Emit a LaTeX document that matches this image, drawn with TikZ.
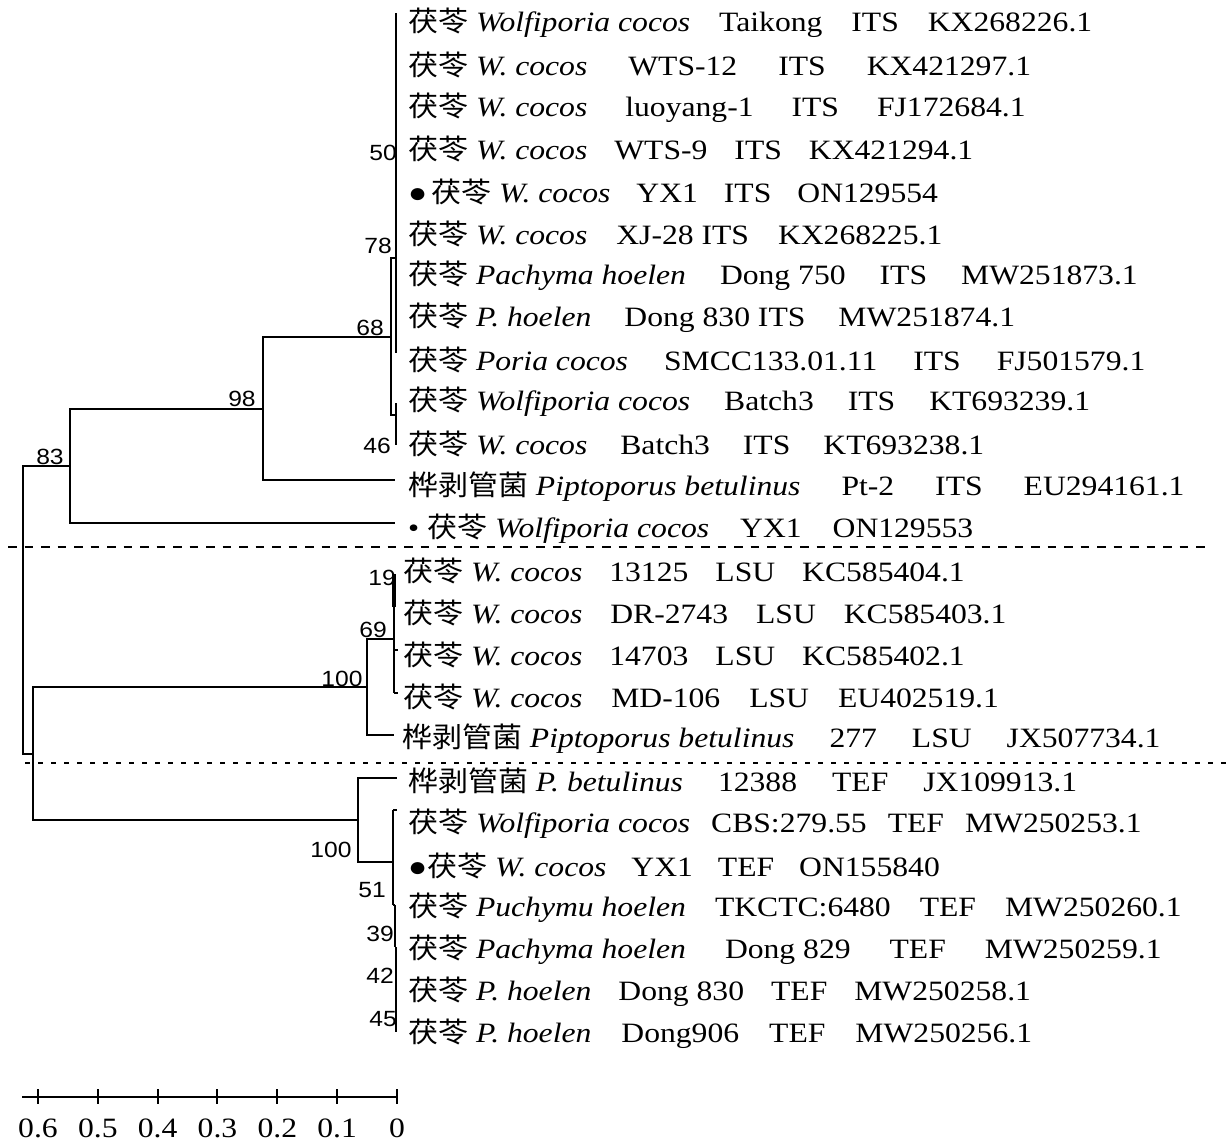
\documentclass[tikz,border=0pt]{standalone}
\usepackage{fontspec}
\setmainfont{Liberation Serif}[FakeStretch=1.13]
\newfontfamily\cjkf{Noto Sans CJK SC}[FakeStretch=1.07]
\newfontfamily\bsfam{Liberation Sans}[FakeStretch=1.12]
\newlength\rg
\newcommand{\gp}{\hspace{\rg}}
\newcommand{\G}[1]{\setlength{\rg}{#1pt}}
\newcommand{\fuling}{{\cjkf 茯苓}}
\newcommand{\huabo}{{\cjkf 桦剥管菌}}
\begin{document}
\begin{tikzpicture}[x=1pt,y=-1pt,
  br/.style={line width=2pt},
  lab/.style={anchor=west,inner sep=0pt,font=\fontsize{28}{32}\selectfont},
  bsl/.style={inner sep=0pt,font=\bsfam\fontsize{22}{24}\selectfont},
  scl/.style={inner sep=0pt,font=\fontsize{28}{32}\selectfont}]
\useasboundingbox (0,0) rectangle (1230,1141);
% ---------- labels ----------
\node[lab] (t1)  at (408,23)    {\G{29}\fuling\ \textit{Wolfiporia cocos}\gp Taikong\gp ITS\gp KX268226.1};
\node[lab] (t2)  at (408,65.1)  {\G{41}\fuling\ \textit{W. cocos}\gp WTS-12\gp ITS\gp KX421297.1};
\node[lab] (t3)  at (408,107.3) {\G{38}\fuling\ \textit{W. cocos}\gp luoyang-1\gp ITS\gp FJ172684.1};
\node[lab] (t4)  at (408,149.4) {\G{27}\fuling\ \textit{W. cocos}\gp WTS-9\gp ITS\gp KX421294.1};
\node[lab] (t5)  at (408,191.5) {\G{26}●\hspace{4pt}\fuling\ \textit{W. cocos}\gp YX1\gp ITS\gp ON129554};
\node[lab] (t6)  at (408,233.6) {\G{29}\fuling\ \textit{W. cocos}\gp XJ-28 ITS\gp KX268225.1};
\node[lab] (t7)  at (408,275.8) {\G{34}\fuling\ \textit{Pachyma hoelen}\gp Dong 750\gp ITS\gp MW251873.1};
\node[lab] (t8)  at (408,317.9) {\G{33}\fuling\ \textit{P. hoelen}\gp Dong 830 ITS\gp MW251874.1};
\node[lab] (t9)  at (408,360)   {\G{36}\fuling\ \textit{Poria cocos}\gp SMCC133.01.11\gp ITS\gp FJ501579.1};
\node[lab] (t10) at (408,402.1) {\G{34}\fuling\ \textit{Wolfiporia cocos}\gp Batch3\gp ITS\gp KT693239.1};
\node[lab] (t11) at (408,444.3) {\G{33}\fuling\ \textit{W. cocos}\gp Batch3\gp ITS\gp KT693238.1};
\node[lab] (t12) at (408,486.4) {\G{41}\huabo\ \textit{Piptoporus betulinus}\gp Pt-2\gp ITS\gp EU294161.1};
\node[lab] (t13) at (408,528.5) {\G{31}•\ \fuling\ \textit{Wolfiporia cocos}\gp YX1\gp ON129553};
\node[lab] (t14) at (403,570.6) {\G{27}\fuling\ \textit{W. cocos}\gp 13125\gp LSU\gp KC585404.1};
\node[lab] (t15) at (403,612.8) {\G{28}\fuling\ \textit{W. cocos}\gp DR-2743\gp LSU\gp KC585403.1};
\node[lab] (t16) at (403,654.9) {\G{27}\fuling\ \textit{W. cocos}\gp 14703\gp LSU\gp KC585402.1};
\node[lab] (t17) at (403,697)   {\G{29}\fuling\ \textit{W. cocos}\gp MD-106\gp LSU\gp EU402519.1};
\node[lab] (t18) at (402,739.1) {\G{35}\huabo\ \textit{Piptoporus betulinus}\gp 277\gp LSU\gp JX507734.1};
\node[lab] (t19) at (408,781.3) {\G{35}\huabo\ \textit{P. betulinus}\gp 12388\gp TEF\gp JX109913.1};
\node[lab] (t20) at (408,823.4) {\G{21}\fuling\ \textit{Wolfiporia cocos}\gp CBS:279.55\gp TEF\gp MW250253.1};
\node[lab] (t21) at (408,865.5) {\G{25}●\fuling\ \textit{W. cocos}\gp YX1\gp TEF\gp ON155840};
\node[lab] (t22) at (408,907.6) {\G{29}\fuling\ \textit{Puchymu hoelen}\gp TKCTC:6480\gp TEF\gp MW250260.1};
\node[lab] (t23) at (408,949.8) {\G{39}\fuling\ \textit{Pachyma hoelen}\gp Dong 829\gp TEF\gp MW250259.1};
\node[lab] (t24) at (408,991.9) {\G{27}\fuling\ \textit{P. hoelen}\gp Dong 830\gp TEF\gp MW250258.1};
\node[lab] (t25) at (408,1034)  {\G{30}\fuling\ \textit{P. hoelen}\gp Dong906\gp TEF\gp MW250256.1};
% ---------- tree nodes ----------
\coordinate (root) at (23,609);
\coordinate (n83)  at (70,465.5);
\coordinate (nLT)  at (33,753.5);
\coordinate (n98)  at (263,408.5);
\coordinate (n68)  at (391,337);
\coordinate (n78)  at (396,258);
\coordinate (n46)  at (396,415);
\coordinate (c50a) at (396,13);
\coordinate (c50b) at (396,353);
\coordinate (c46a) at (396,403);
\coordinate (c46b) at (396,445);
\coordinate (lPipA) at (395,480);
\coordinate (lYXa)  at (395,523);
\coordinate (n100L) at (367,687);
\coordinate (n69)   at (394,639);
\coordinate (lPipB) at (394,735);
\coordinate (c69a)  at (394,574);
\coordinate (c19b)  at (394,607);
\coordinate (c69b)  at (394,693);
\coordinate (k16)   at (398,650);
\coordinate (k17)   at (398,693);
\coordinate (n100T) at (358,820);
\coordinate (lPipC) at (397,778);
\coordinate (n51)   at (393,862);
\coordinate (c51a)  at (393,810);
\coordinate (c51b)  at (393,905);
\coordinate (k20)   at (397,810);
\coordinate (c39a)  at (395,905);
\coordinate (c39b)  at (395,947);
\coordinate (c42a)  at (396,947);
\coordinate (c42b)  at (396,1032);
% ---------- branches ----------
\draw[br] (root) |- (n83);
\draw[br] (root) |- (nLT);
\draw[br] (n83) |- (n98);
\draw[br] (n83) |- (lYXa);
\draw[br] (n98) |- (n68);
\draw[br] (n98) |- (lPipA);
\draw[br] (n68) |- (n78);
\draw[br] (n68) |- (n46);
\draw[br] (c50a) -- (c50b);
\draw[br] (c46a) -- (c46b);
\draw[br] (nLT) |- (n100L);
\draw[br] (nLT) |- (n100T);
\draw[br] (n100L) |- (n69);
\draw[br] (n100L) |- (lPipB);
\draw[br] (c69a) -- (c69b);
\draw[line width=3.4pt] (c69a) -- (c19b);
\draw[br] (c69b |- k16) -- (k16);
\draw[br] (c69b) -- (k17);
\draw[br] (n100T) |- (lPipC);
\draw[br] (n100T) |- (n51);
\draw[br] (c51a) -- (c51b);
\draw[br] (c51a) -- (k20);
\draw[br] (c51b) -- (c39a);
\draw[br] (c39a) -- (c39b);
\draw[br] (c42a) -- (c42b);
% ---------- bootstrap values ----------
\node[bsl] (b50)  at (383,153) {50};
\node[bsl] (b78)  at (378,246) {78};
\node[bsl] (b68)  at (370,328) {68};
\node[bsl] (b46)  at (377,446) {46};
\node[bsl] (b98)  at (242,399) {98};
\node[bsl] (b83)  at (50,457)  {83};
\node[bsl] (b19)  at (382,578) {19};
\node[bsl] (b69)  at (373,630) {69};
\node[bsl] (b100L) at (342,679) {100};
\node[bsl] (b100T) at (331,850) {100};
\node[bsl] (b51)  at (372,890) {51};
\node[bsl] (b39)  at (380,934) {39};
\node[bsl] (b42)  at (380,976) {42};
\node[bsl] (b45)  at (383,1019) {45};
% ---------- separators ----------
\coordinate (d1a) at (8,547);
\coordinate (d1b) at (1210,547);
\coordinate (d2a) at (25,763);
\coordinate (d2b) at (1228,763);
\draw[line width=1.8pt,dash pattern=on 8.5pt off 8pt] (d1a) -- (d1b);
\draw[line width=2.2pt,dash pattern=on 5pt off 8pt] (d2a) -- (d2b);
% ---------- scale bar ----------
\coordinate (sa) at (22,1097);
\coordinate (sb) at (397,1097);
\draw[br] (sa) -- (sb);
\foreach \i/\t in {0/0.6,1/0.5,2/0.4,3/0.3,4/0.2,5/0.1,6/0}{
  \draw[br] ({38+59.83*\i},1089) -- ({38+59.83*\i},1104);
  \node[scl] (s\i) at ({38+59.83*\i},1128) {\t};
}
\end{tikzpicture}
\end{document}
